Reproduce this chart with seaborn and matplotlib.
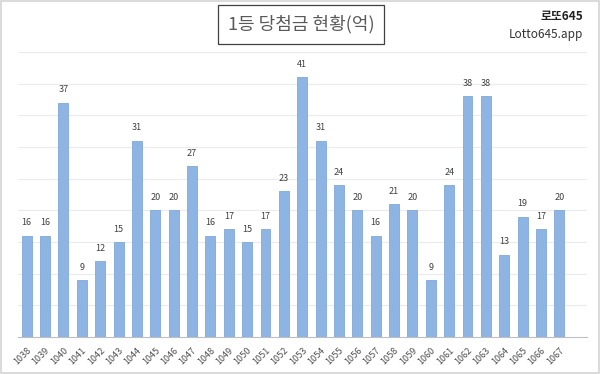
import matplotlib
matplotlib.use('Agg')
from matplotlib import pyplot as plt
from matplotlib.patches import Rectangle
import seaborn as sns
import numpy as np
import pandas as pd

rounds = [str(r) for r in range(1038, 1068)]
prize = [16, 16, 37, 9, 12, 15, 31, 20, 20, 27,
         16, 17, 15, 17, 23, 41, 31, 24, 20, 16,
         21, 20, 9, 24, 38, 38, 13, 19, 17, 20]

sns.set_style('white')
plt.rcParams['font.family'] = ['Noto Sans CJK KR', 'DejaVu Sans']

df = pd.DataFrame({'round': rounds, 'prize': prize})

fig = plt.figure(figsize=(6, 3.74), dpi=100)
ax = fig.add_axes([0.0292, 0.0989, 0.949, 0.762])
sns.barplot(data=df, x='round', y='prize', color='#8DB4E2', saturation=1,
            width=0.54, edgecolor='#7FA8D8', linewidth=0.6, ax=ax, zorder=3)

# one empty slot after the last round, like the original
ax.set_xlim(-0.5, len(rounds) + 0.5)
ax.set_ylim(0, 45)
ax.set_yticks(np.arange(5, 46, 5))
ax.yaxis.grid(True, color='#ebebeb', linewidth=0.8, zorder=0)
ax.tick_params(axis='y', left=False, labelleft=False)
ax.set_xlabel('')
ax.set_ylabel('')
for s in ['top', 'right', 'left']:
    ax.spines[s].set_visible(False)
ax.spines['bottom'].set_color('#bfbfbf')
ax.spines['bottom'].set_linewidth(0.8)

ax.set_xticks(np.arange(len(rounds)))
ax.set_xticklabels(rounds, rotation=45, ha='right', rotation_mode='anchor',
                   fontsize=6.5, color='#505050')
ax.tick_params(axis='x', which='major', length=0, pad=6)
ax.set_xticks(np.arange(-0.5, len(rounds) + 1), minor=True)
ax.tick_params(axis='x', which='minor', length=4, color='#bfbfbf', width=0.8)

for i, v in enumerate(prize):
    ax.text(i, v + 1.3, str(v), ha='center', va='bottom', fontsize=6.5,
            color='#404040')

fig.text(0.502, 0.935, '1등 당첨금 현황(억)', ha='center', va='center',
         fontsize=13, color='#595959',
         bbox=dict(boxstyle='square,pad=0.55', facecolor='white',
                   edgecolor='#404040', linewidth=0.9))
fig.text(0.972, 0.955, '로또645', ha='right', va='center', fontsize=8.5,
         fontweight='bold', color='#222222')
fig.text(0.972, 0.908, 'Lotto645.app', ha='right', va='center', fontsize=8.5,
         color='#333333')

fig.patches.append(Rectangle((0.001, 0.002), 0.997, 0.995, transform=fig.transFigure,
                             fill=False, edgecolor='#d4d4d4', linewidth=1.2))

fig.savefig('out.png', dpi=100)
